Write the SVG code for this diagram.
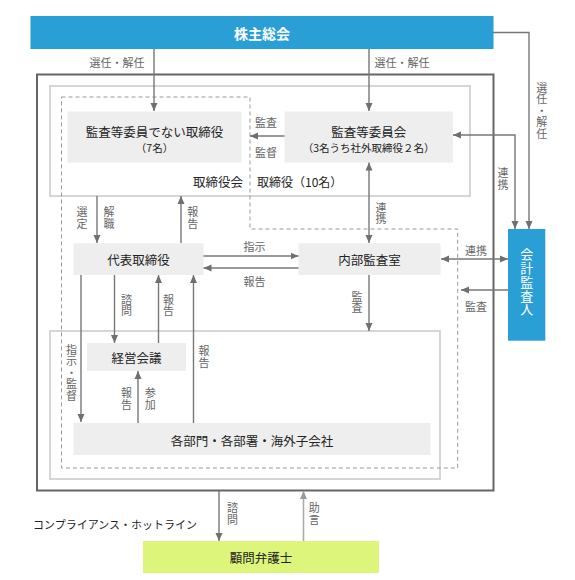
<svg xmlns="http://www.w3.org/2000/svg" width="575" height="580" viewBox="0 0 575 580">
<style>
text{font-family:"Noto Sans CJK JP","Noto Sans",sans-serif;dominant-baseline:central}
.t{font-size:12.5px;fill:#222;text-anchor:middle}
.s{font-size:10.5px;fill:#222;text-anchor:middle}
.l{font-size:11px;fill:#666;text-anchor:middle}
.v{font-size:11px;fill:#666;text-anchor:middle;writing-mode:vertical-rl;letter-spacing:0.6px}
.w{fill:#fff;text-anchor:middle}
.box{fill:#eeeeee}
.ln{fill:none;stroke:#777;stroke-width:1.4}
</style>
<defs>
<marker id="a" viewBox="0 0 8 8" refX="8" refY="4" markerWidth="8" markerHeight="8" markerUnits="userSpaceOnUse" orient="auto-start-reverse"><path d="M0,0.5 L8,4 L0,7.5z" fill="#6f6f6f"/></marker>
<marker id="b" viewBox="0 0 8 8" refX="8" refY="4" markerWidth="8" markerHeight="8" markerUnits="userSpaceOnUse" orient="auto-start-reverse"><path d="M0,0.5 L8,4 L0,7.5z" fill="#9a9a9a"/></marker>
</defs>
<g id="frames">
<rect x="37" y="74.5" width="456.5" height="416" fill="none" stroke="#666" stroke-width="2"/>
<rect x="50" y="86" width="420" height="110" fill="none" stroke="#ccc" stroke-width="1.6"/>
<rect x="50" y="331" width="390" height="148" fill="none" stroke="#ccc" stroke-width="1.6"/>
<path d="M61.5,97 H250 V229 H457.7 V468 H61.5 Z" fill="none" stroke="#999" stroke-width="1" stroke-dasharray="4 3"/>
<text x="243" y="181" style="font-size:12.5px;fill:#222;text-anchor:end">取締役会</text>
<text x="257" y="181" style="font-size:12px;fill:#222">取締役（10名）</text>
</g>
<g id="shareholders">
<rect x="30.5" y="16" width="463" height="33" fill="#2a9fd6"/>
<text x="262" y="32.5" class="w" style="font-size:14px;font-weight:bold">株主総会</text>
</g>
<g id="directors">
<rect class="box" x="67.5" y="111.5" width="174" height="51"/>
<text x="154.5" y="131.5" class="t">監査等委員でない取締役</text>
<text x="154.5" y="147.5" class="s">（7名）</text>
</g>
<g id="auditcommittee">
<rect class="box" x="284.5" y="111.5" width="168.5" height="51"/>
<text x="368.7" y="131.5" class="t">監査等委員会</text>
<text x="368.7" y="147.5" class="s">（3名うち社外取締役２名）</text>
</g>
<g id="ceo">
<rect class="box" x="73.5" y="243.3" width="130" height="31.7"/>
<text x="138.5" y="259" class="t">代表取締役</text>
</g>
<g id="internalaudit">
<rect class="box" x="298.5" y="243.3" width="142" height="31.7"/>
<text x="369.5" y="259" class="t">内部監査室</text>
</g>
<g id="accountant">
<rect x="508" y="229" width="37.3" height="111.7" fill="#2a9fd6"/>
<text x="526.7" y="282.2" class="w" style="font-size:13px;writing-mode:vertical-rl;letter-spacing:0.8px">会計監査人</text>
</g>
<g id="management">
<rect class="box" x="87" y="343" width="99" height="28"/>
<text x="136.5" y="357" class="t">経営会議</text>
</g>
<g id="departments">
<rect class="box" x="73.5" y="423" width="357" height="32"/>
<text x="252" y="440" class="t">各部門・各部署・海外子会社</text>
</g>
<g id="lawyer">
<rect x="143" y="541" width="236" height="32" fill="#dcf57a"/>
<text x="261" y="557" class="t">顧問弁護士</text>
</g>
<g id="hotline">
<text x="33" y="524" style="font-size:11px;fill:#222">コンプライアンス・ホットライン</text>
</g>
<g id="connectors">
<path class="ln" d="M154,49 V111" marker-end="url(#a)"/>
<path class="ln" d="M369,49 V111" marker-end="url(#a)"/>
<path class="ln" d="M493,32.5 H529 V229" marker-end="url(#a)"/>
<path class="ln" d="M515,229 V135 H453" marker-start="url(#a)" marker-end="url(#a)"/>
<path class="ln" d="M284.5,136 H250" marker-end="url(#a)"/>
<path class="ln" d="M97,196 V243" marker-end="url(#a)"/>
<path class="ln" d="M181,243 V196" marker-end="url(#a)"/>
<path class="ln" d="M369,162.5 V243" marker-start="url(#a)" marker-end="url(#a)"/>
<path class="ln" d="M203.5,256 H298.5" marker-end="url(#a)"/>
<path class="ln" d="M298.5,268 H203.5" marker-end="url(#a)"/>
<path class="ln" d="M441,259 H508" marker-start="url(#a)" marker-end="url(#a)"/>
<path class="ln" d="M508,290 H461" marker-end="url(#a)"/>
<path class="ln" d="M369,275 V331" marker-end="url(#a)"/>
<path class="ln" d="M114.5,275 V343" marker-end="url(#a)"/>
<path class="ln" d="M158.5,343 V275" marker-end="url(#a)"/>
<path class="ln" d="M193.5,423 V275" marker-end="url(#a)"/>
<path class="ln" d="M81,275 V422" marker-end="url(#a)"/>
<path class="ln" d="M138,423 V371" marker-end="url(#a)"/>
<path class="ln" d="M219,491 V541" marker-end="url(#a)"/>
<path d="M303.5,541 V491" fill="none" stroke="#aaa" stroke-width="1.6" marker-end="url(#b)"/>
</g>
<g id="labels">
<text x="117" y="62" class="l">選任・解任</text>
<text x="402" y="62" class="l">選任・解任</text>
<text x="266" y="121.5" class="l">監査</text>
<text x="266" y="152" class="l">監督</text>
<text x="254.5" y="246" class="l">指示</text>
<text x="254.5" y="281" class="l">報告</text>
<text x="476" y="250" class="l">連携</text>
<text x="476" y="305.5" class="l">監査</text>
<text x="541.7" y="111" class="v">選任・解任</text>
<text x="503" y="179.3" class="v">連携</text>
<text x="82" y="218.2" class="v">選定</text>
<text x="109" y="218.2" class="v">解職</text>
<text x="192.7" y="218.2" class="v">報告</text>
<text x="381" y="213.8" class="v">連携</text>
<text x="357" y="302.8" class="v">監査</text>
<text x="126.4" y="305.8" class="v">諮問</text>
<text x="168.5" y="305.8" class="v">報告</text>
<text x="204" y="357.3" class="v">報告</text>
<text x="71.4" y="373" class="v">指示・監督</text>
<text x="126.4" y="399.2" class="v">報告</text>
<text x="150.2" y="399.2" class="v">参加</text>
<text x="232.6" y="514.2" class="v">諮問</text>
<text x="314.3" y="514.2" class="v">助言</text>
</g>
</svg>
